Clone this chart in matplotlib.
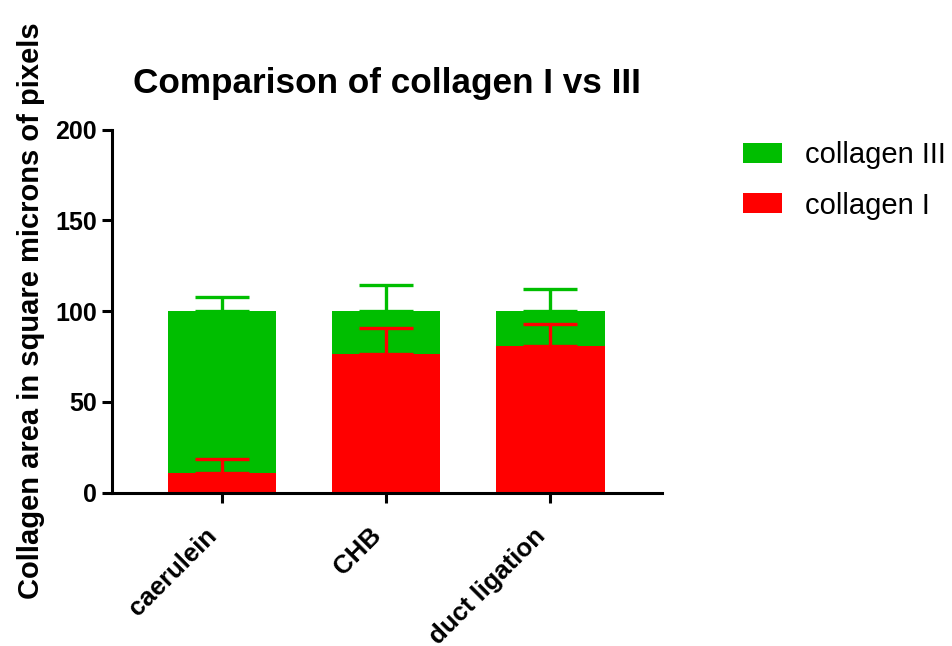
import numpy as np
import matplotlib
matplotlib.use("Agg")
import matplotlib.pyplot as plt
from matplotlib.transforms import ScaledTranslation

# values (percent of collagen area)
groups = ["caerulein", "CHB", "duct ligation"]
collagen_I = [11.0, 76.5, 80.5]
collagen_I_err = [7.4, 14.3, 12.3]
collagen_III = [89.0, 23.5, 19.5]
collagen_III_err = [7.7, 14.2, 12.0]
y_ticks = [0, 50, 100, 150, 200]

red = "#FF0000"
green = "#00BE00"

plt.rcParams["font.family"] = ["Liberation Sans", "DejaVu Sans"]

fig = plt.figure(figsize=(9.53, 6.46), dpi=100)
ax = fig.add_axes([0.1175, 0.2376, 0.5772, 0.5619])

x = np.arange(len(groups))
width = 0.66
tops_I = np.array(collagen_I)
tops_III = tops_I + np.array(collagen_III)

b1 = ax.bar(x, collagen_I, width, color=red, label="collagen I", zorder=2)
b3 = ax.bar(x, collagen_III, width, bottom=collagen_I, color=green,
            label="collagen III", zorder=2)

# one-sided (upward) error bars
ax.errorbar(x, tops_III, yerr=[np.zeros(3), collagen_III_err], fmt="none",
            ecolor=green, elinewidth=2.4, capsize=19.5, capthick=2.4, zorder=3)
ax.errorbar(x, tops_I, yerr=[np.zeros(3), collagen_I_err], fmt="none",
            ecolor=red, elinewidth=2.4, capsize=19.5, capthick=2.4, zorder=4)

ax.set_xlim(-0.668, 2.68)
ax.set_ylim(0, 200)
ax.set_yticks(y_ticks)
ax.set_xticks(x)

for side in ["top", "right"]:
    ax.spines[side].set_visible(False)
for side in ["left", "bottom"]:
    ax.spines[side].set_linewidth(2.2)
ax.tick_params(axis="both", width=2.2, length=7, pad=4)
ax.tick_params(axis="x", pad=8)

ax.set_xticklabels(groups, rotation=45, ha="right", va="top",
                   rotation_mode="anchor", fontsize=18.5, fontweight="bold")
# nudge the slanted labels so they end just left of / below the tick
shift = ScaledTranslation(-17 / 100, -10 / 100, fig.dpi_scale_trans)
for lab in ax.get_xticklabels():
    lab.set_transform(lab.get_transform() + shift)
for lab in ax.get_yticklabels():
    lab.set_fontsize(18)
    lab.set_fontweight("bold")

ax.set_title("Comparison of collagen I vs III", fontsize=25.3,
             fontweight="bold", pad=26)
ax.set_ylabel("Collagen area in square microns of pixels", fontsize=21,
              fontweight="bold", labelpad=7)

ax.legend([b3, b1], ["collagen III", "collagen I"], loc="upper left",
          bbox_to_anchor=(0.7796, 0.781), bbox_transform=fig.transFigure,
          frameon=False, fontsize=21, handlelength=1.34, handleheight=0.68,
          handletextpad=0.79, labelspacing=0.76, borderpad=0, borderaxespad=0)

fig.savefig("out.png", dpi=100)
